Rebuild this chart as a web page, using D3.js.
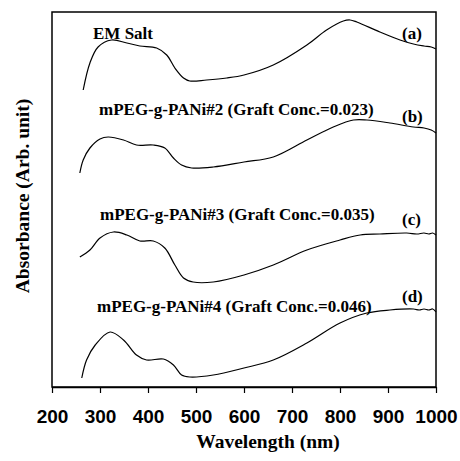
<!DOCTYPE html>
<html>
<head>
<meta charset="utf-8">
<script src="https://cdn.jsdelivr.net/npm/d3@7"></script>
<style>
  body { margin: 0; background: #fff; }
  svg { display: block; }
</style>
</head>
<body>
<svg></svg>
<script>
// wavelength (nm) and absorbance (arbitrary, stacked)
const wlA = [265, 279, 296, 324, 356, 383, 418, 439, 456, 474, 487, 522, 564, 600, 661, 731, 772, 807, 821, 835, 883, 925, 953, 975, 990, 1000];
const absA = [297, 324, 340, 347, 344, 341, 339, 332, 319, 309, 306, 307, 309, 312, 322, 342, 357, 366, 367, 365, 355, 347, 343, 341, 340, 338];

const wlB = [258, 265, 279, 300, 317, 349, 376, 411, 435, 453, 470, 491, 536, 600, 661, 731, 786, 828, 856, 904, 953, 975, 990, 1000];
const absB = [214, 227, 239, 248, 250, 247, 242, 242, 239, 229, 222, 219, 220, 225, 230, 247, 260, 267, 267, 264, 260, 259, 257, 254];

const wlC = [258, 279, 300, 328, 356, 383, 411, 435, 456, 474, 494, 536, 600, 661, 731, 800, 842, 883, 939, 960, 975, 985, 993, 1000];
const absC = [130, 137, 149, 155, 152, 146, 146, 139, 122, 109, 105, 105, 112, 122, 137, 147, 152, 153, 154, 153, 154, 153, 154, 152];

const wlD = [262, 272, 290, 321, 349, 376, 397, 432, 453, 470, 487, 536, 600, 661, 731, 800, 856, 904, 953, 965, 975, 985, 993, 1000];
const absD = [9, 27, 42, 55, 47, 32, 27, 28, 22, 12, 10, 12, 19, 27, 44, 64, 74, 77, 78, 77, 78, 77, 78, 75];

const names = ['EM Salt', 'mPEG-g-PANi#2 (Graft Conc.=0.023)', 'mPEG-g-PANi#3 (Graft Conc.=0.035)', 'mPEG-g-PANi#4 (Graft Conc.=0.046)'];
const tags = ['(a)', '(b)', '(c)', '(d)'];
const xTicks = [200, 300, 400, 500, 600, 700, 800, 900, 1000];

const width = 460;
const height = 461;
const padLeft = 52, padRight = 436, padTop = 12, padBottom = 387;
const serif = "'Liberation Serif', 'DejaVu Serif', serif";

const svg = d3.select('svg').attr('width', width).attr('height', height);

const xScale = d3.scaleLinear().domain([200, 1000]).range([padLeft, padRight]);
const yScale = d3.scaleLinear().domain([0, 375]).range([padBottom, padTop]);

const series = [[wlA, absA], [wlB, absB], [wlC, absC], [wlD, absD]].map((s) =>
  s[0].map((w, i) => ({ w: w, a: s[1][i] }))
);

// frame
svg.append('rect')
  .attr('x', padLeft).attr('y', padTop)
  .attr('width', padRight - padLeft).attr('height', padBottom - padTop)
  .attr('fill', 'none').attr('stroke', '#000').attr('stroke-width', 1.5);

const line = d3.line()
  .x((d) => xScale(d.w))
  .y((d) => yScale(d.a))
  .curve(d3.curveCatmullRom.alpha(0.5));

svg.selectAll('path.spec')
  .data(series)
  .enter()
  .append('path')
  .attr('class', 'spec')
  .attr('d', line)
  .attr('fill', 'none')
  .attr('stroke', '#000')
  .attr('stroke-width', 1.2);

// x axis
const xAxis = d3.axisBottom(xScale).tickValues(xTicks).tickSize(6).tickSizeOuter(0).tickFormat(d3.format('d'));
const gx = svg.append('g')
  .attr('transform', 'translate(0,' + padBottom + ')')
  .call(xAxis);
gx.select('.domain').attr('stroke-width', 1.5);
gx.selectAll('.tick line').attr('stroke-width', 1.2);
gx.selectAll('.tick text')
  .attr('y', 23)
  .attr('fill', '#000')
  .style('font-family', "'Liberation Sans', Arial, sans-serif")
  .style('font-weight', 'bold')
  .style('font-size', '19px');

// curve labels
const nameX = [93, 99, 100, 97];
const nameY = [39, 115, 220, 312];
const tagY = [39, 122, 225, 302];

svg.selectAll('text.name')
  .data(names)
  .enter()
  .append('text')
  .attr('class', 'name')
  .attr('x', (d, i) => nameX[i])
  .attr('y', (d, i) => nameY[i])
  .style('font-family', serif)
  .style('font-weight', 'bold')
  .style('font-size', '17px')
  .text((d) => d);

svg.selectAll('text.tag')
  .data(tags)
  .enter()
  .append('text')
  .attr('class', 'tag')
  .attr('x', 402)
  .attr('y', (d, i) => tagY[i])
  .style('font-family', serif)
  .style('font-weight', 'bold')
  .style('font-size', '17px')
  .text((d) => d);

// axis titles
svg.append('text')
  .attr('x', 268)
  .attr('y', 448)
  .attr('text-anchor', 'middle')
  .style('font-family', serif)
  .style('font-weight', 'bold')
  .style('font-size', '19.5px')
  .text('Wavelength (nm)');

svg.append('text')
  .attr('transform', 'translate(29,196) rotate(-90)')
  .attr('text-anchor', 'middle')
  .style('font-family', serif)
  .style('font-weight', 'bold')
  .style('font-size', '19.5px')
  .text('Absorbance (Arb. unit)');
</script>
</body>
</html>
